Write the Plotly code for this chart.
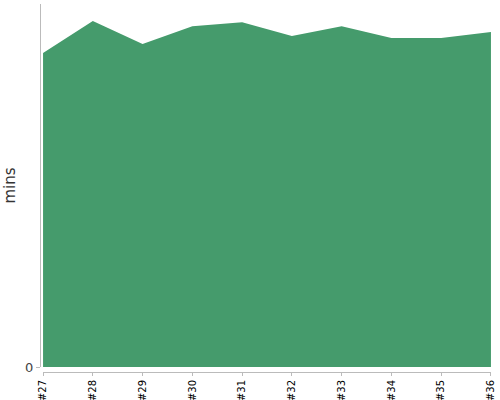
import plotly.graph_objects as go

builds = ["#27", "#28", "#29", "#30", "#31", "#32", "#33", "#34", "#35", "#36"]
mins = [86.5, 95.3, 89.0, 93.9, 95.0, 91.2, 93.9, 90.6, 90.6, 92.3]

fig = go.Figure()
fig.add_trace(go.Scatter(
    x=builds, y=mins, mode="lines", fill="tozeroy",
    line=dict(width=0, color="#459B6C"), fillcolor="#459B6C",
    hoverinfo="skip", showlegend=False, cliponaxis=False,
))

W, H = 451, 368
fig.update_layout(
    width=500, height=400,
    margin=dict(l=40, r=9, t=4, b=28),
    plot_bgcolor="white", paper_bgcolor="white",
    font=dict(family="DejaVu Sans"),
    xaxis=dict(
        domain=[3 / W, 1], anchor="free", position=0, automargin=False,
        type="category", range=[-0.001, 9.001], showgrid=False, zeroline=False,
        showline=True, linecolor="#bbbbbb", linewidth=1,
        ticks="outside", ticklen=3, tickcolor="#bbbbbb",
        tickangle=-90, tickfont=dict(size=10, color="#000000"),
    ),
    yaxis=dict(
        domain=[5 / H, 1], anchor="free", position=0, automargin=False,
        range=[0, 100], showgrid=False, zeroline=False,
        showline=True, linecolor="#bbbbbb", linewidth=1,
        ticks="outside", ticklen=4, tickcolor="#bbbbbb",
        tickvals=[0], ticktext=["0"], tickfont=dict(size=13, color="#444444"),
        title=dict(text="mins", font=dict(size=15, color="#333333"), standoff=4),
    ),
)

fig.write_html(
    "out.html",
    config={"displayModeBar": False},
    post_script="document.body.style.margin='0';document.body.style.overflow='hidden';",
)
